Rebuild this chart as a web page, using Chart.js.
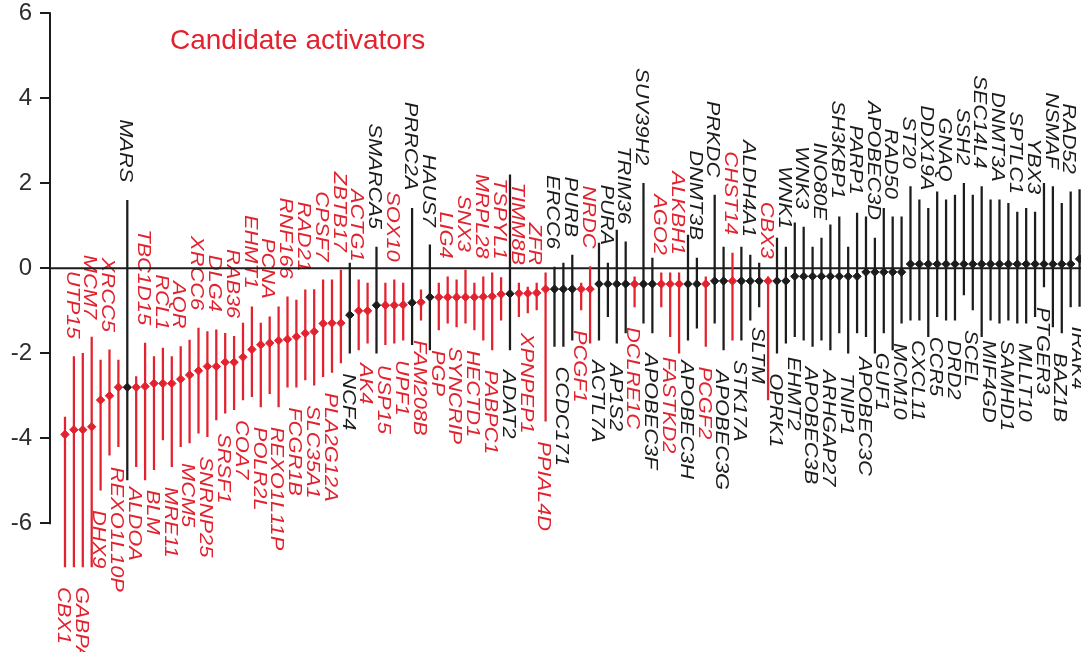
<!DOCTYPE html>
<html>
<head>
<meta charset="utf-8">
<script src="https://cdn.jsdelivr.net/npm/chart.js@4.4.1/dist/chart.umd.min.js"></script>
<style>
  html, body { margin: 0; padding: 0; background: #ffffff; overflow: hidden; }
  #wrap { width: 1081px; height: 652px; position: relative; }
</style>
</head>
<body>
<div id="wrap"><canvas id="screen" width="1081" height="652"></canvas></div>
<script>
// Genes ranked by score (ascending)
const genes = [
  'CBX1','UTP15','GABPA','MCM7','DHX9','XRCC5','REXO1L10P','MARS','ALDOA','TBC1D15',
  'BLM','RCL1','MRE11','AQR','MCM5','XRCC6','SNRNP25','DLG4','SRSF1','RAB36',
  'COA7','EHMT1','POLR2L','PCNA','REXO1L11P','RNF166','FCGR1B','RAD21','SLC35A1','CPSF7',
  'PLA2G12A','ZBTB17','NCF4','ACTG1','AK4','SMARCA5','USP15','SOX10','UPF1','PRRC2A',
  'FAM208B','HAUS7','PGP','LIG4','SYNCRIP','SNX3','HECTD1','MRPL28','PABPC1','TSPYL1',
  'ADAT2','TIMM8B','XPNPEP1','ZFR','PPIAL4D','ERCC6','CCDC171','PURB','PCGF1','NRDC',
  'ACTL7A','PURA','AP1S2','TRIM36','DCLRE1C','SUV39H2','APOBEC3F','AGO2','FASTKD2','ALKBH1',
  'APOBEC3H','DNMT3B','PCGF2','PRKDC','APOBEC3G','CHST14','STK17A','ALDH4A1','SLTM','CBX3',
  'OPRK1','WNK1','EHMT2','WNK3','APOBEC3B','INO80E','ARHGAP27','SH3KBP1','TNIP1','PARP1',
  'APOBEC3C','APOBEC3D','GUF1','RAD50','MCM10','ST20','CXCL11','DDX19A','CCR5','GNAQ',
  'DRD2','SSH2','SCEL','SEC14L4','MIF4GD','DNMT3A','SAMHD1','SPTLC1','MLLT10','YBX3',
  'PTGER3','NSMAF','BAZ1B','RAD52','IRAK4'
];

// Point estimate per gene
const scores = [
  -3.91,-3.80,-3.80,-3.73,-3.10,-3.00,-2.80,-2.80,-2.80,-2.78,
  -2.71,-2.71,-2.71,-2.61,-2.51,-2.41,-2.31,-2.31,-2.21,-2.21,
  -2.09,-1.91,-1.80,-1.76,-1.70,-1.67,-1.61,-1.53,-1.49,-1.30,
  -1.29,-1.29,-1.10,-1.00,-1.00,-0.87,-0.87,-0.87,-0.86,-0.81,
  -0.80,-0.68,-0.68,-0.68,-0.68,-0.68,-0.68,-0.67,-0.66,-0.61,
  -0.60,-0.59,-0.59,-0.58,-0.49,-0.49,-0.49,-0.49,-0.49,-0.49,
  -0.37,-0.37,-0.37,-0.37,-0.37,-0.37,-0.37,-0.37,-0.37,-0.37,
  -0.37,-0.37,-0.37,-0.30,-0.30,-0.30,-0.30,-0.30,-0.30,-0.30,
  -0.30,-0.30,-0.19,-0.19,-0.19,-0.19,-0.19,-0.19,-0.19,-0.19,
  -0.09,-0.09,-0.09,-0.09,-0.09,0.10,0.10,0.10,0.10,0.10,
  0.10,0.10,0.10,0.10,0.10,0.10,0.10,0.10,0.10,0.10,
  0.10,0.10,0.10,0.10,0.22
];

// Lower end of each interval
const ciLow = [
  -7.03,-7.03,-7.03,-7.03,-5.22,-4.40,-4.20,-4.98,-4.67,-4.98,
  -4.74,-4.04,-4.67,-4.20,-4.11,-3.88,-3.96,-3.57,-3.41,-3.33,
  -3.10,-3.02,-3.26,-2.95,-3.26,-2.80,-2.80,-2.63,-2.75,-2.55,
  -2.45,-2.23,-2.00,-1.92,-1.76,-2.00,-1.80,-1.76,-1.69,-1.80,
  -1.22,-1.92,-1.45,-1.29,-1.38,-1.29,-1.45,-1.69,-1.92,-1.22,
  -1.92,-1.14,-1.05,-0.98,-3.60,-1.84,-1.84,-1.69,-0.98,-1.76,
  -1.69,-1.14,-1.76,-1.52,-0.91,-1.29,-1.52,-0.91,-1.61,-2.00,
  -1.69,-1.41,-1.84,-1.29,-1.92,-1.69,-1.69,-1.22,-0.91,-3.10,
  -2.00,-1.76,-1.61,-1.69,-1.84,-1.69,-1.92,-1.52,-2.00,-1.52,
  -1.61,-2.00,-1.52,-1.92,-1.29,-1.22,-1.22,-1.61,-1.14,-1.22,
  -1.22,-0.63,-0.98,-1.61,-1.22,-1.29,-1.22,-1.29,-1.29,-1.14,
  -0.44,-1.38,-1.52,-0.91,-0.90
];

// Upper end of each interval
const ciHigh = [
  -3.50,-2.08,-2.00,-1.62,-2.16,-1.92,-2.16,1.60,-2.55,-1.76,
  -2.08,-1.88,-2.08,-1.84,-1.69,-1.41,-1.49,-1.45,-1.53,-1.60,
  -1.29,-0.91,-1.29,-1.14,-0.91,-0.67,-0.75,-0.51,-0.50,-0.27,
  -0.27,-0.04,0.12,-0.27,-0.35,0.50,-0.35,-0.27,-0.35,1.41,
  -0.51,0.55,-0.35,-0.20,-0.27,-0.04,-0.35,-0.20,-0.11,-0.22,
  2.20,-0.35,-0.44,-0.35,-0.11,0.03,0.12,0.31,-0.35,0.04,
  0.59,0.12,0.90,0.62,-0.20,2.00,0.24,-0.11,-0.11,-0.11,
  0.78,0.24,-0.20,1.72,0.50,0.36,0.50,0.31,0.12,-0.20,
  0.71,0.50,1.07,0.97,0.50,0.71,1.02,1.21,0.50,1.30,
  1.21,0.71,1.41,1.21,1.21,1.92,1.61,1.41,1.80,1.61,
  1.72,2.00,1.72,1.92,1.61,1.61,1.53,1.32,1.41,1.32,
  2.00,1.92,1.53,1.80,1.85
];

// 1 = candidate activator (red), 0 = other gene (black)
const activator = [
  1,1,1,1,1,1,1,0,1,1,
  1,1,1,1,1,1,1,1,1,1,
  1,1,1,1,1,1,1,1,1,1,
  1,1,0,1,1,0,1,1,1,0,
  1,0,1,1,1,1,1,1,1,1,
  0,1,1,1,1,0,0,0,1,1,
  0,0,0,0,1,0,0,1,1,1,
  0,0,1,0,0,1,0,0,0,1,
  0,0,0,0,0,0,0,0,0,0,
  0,0,0,0,0,0,0,0,0,0,
  0,0,0,0,0,0,0,0,0,0,
  0,0,0,0,0
];

const yTickValues = [-6, -4, -2, 0, 2, 4, 6];
const titleText = 'Candidate activators';

const RED = '#e2222e';
const BLACK = '#1c1c1c';
const colorOf = i => (activator[i] ? RED : BLACK);
const colors = genes.map((g, i) => colorOf(i));

// Gene names, zero line, axis line and the group caption
const annotate = {
  id: 'annotate',
  beforeDatasetsDraw(chart) {
    const { ctx, scales: { x, y }, chartArea } = chart;
    ctx.save();

    ctx.font = 'italic 19px "Liberation Sans", Arial, sans-serif';
    ctx.textBaseline = 'middle';
    genes.forEach((g, i) => {
      const below = i % 2 === 0;
      const px = x.getPixelForValue(i) - 2;
      const py = below ? y.getPixelForValue(ciLow[i]) + 20
                       : y.getPixelForValue(ciHigh[i]) - 18;
      ctx.save();
      ctx.translate(px, py);
      ctx.rotate(Math.PI / 2);
      ctx.scale(1.15, 1);
      ctx.textAlign = below ? 'left' : 'right';
      ctx.fillStyle = colorOf(i);
      ctx.fillText(g, 0, 0);
      ctx.restore();
    });

    // horizontal line at zero
    const y0 = y.getPixelForValue(0);
    ctx.strokeStyle = BLACK;
    ctx.lineWidth = 2;
    ctx.beginPath();
    ctx.moveTo(chartArea.left, y0);
    ctx.lineTo(chartArea.right, y0);
    ctx.stroke();

    // vertical axis spanning the tick range only
    ctx.beginPath();
    ctx.moveTo(chartArea.left, y.getPixelForValue(yTickValues[yTickValues.length - 1]) - 1);
    ctx.lineTo(chartArea.left, y.getPixelForValue(yTickValues[0]) + 1);
    ctx.stroke();

    // caption
    ctx.font = '28px "Liberation Sans", Arial, sans-serif';
    ctx.fillStyle = RED;
    ctx.textAlign = 'left';
    ctx.textBaseline = 'alphabetic';
    ctx.fillText(titleText, 170, 49);

    ctx.restore();
  }
};

new Chart(document.getElementById('screen').getContext('2d'), {
  type: 'bar',
  data: {
    datasets: [
      {
        type: 'bar',
        data: genes.map((g, i) => ({ x: i, y: [ciLow[i], ciHigh[i]] })),
        backgroundColor: colors,
        borderWidth: 0,
        barThickness: 1.6,
        order: 2
      },
      {
        type: 'scatter',
        data: genes.map((g, i) => ({ x: i, y: scores[i] })),
        pointStyle: 'rectRot',
        pointRadius: 4.2,
        pointBackgroundColor: colors,
        pointBorderColor: colors,
        pointBorderWidth: 1,
        order: 1
      }
    ]
  },
  options: {
    responsive: false,
    animation: false,
    events: [],
    layout: { autoPadding: false, padding: { top: 13.3, right: 0, bottom: 0, left: 0 } },
    plugins: {
      legend: { display: false },
      tooltip: { enabled: false },
      title: { display: false }
    },
    scales: {
      x: {
        type: 'linear',
        offset: false,
        min: -1.685,
        max: 114.16,
        display: false
      },
      y: {
        min: -9.03,
        max: 6,
        border: { display: false },
        grid: {
          drawOnChartArea: false,
          drawTicks: true,
          tickLength: 10,
          color: BLACK,
          lineWidth: 2
        },
        ticks: {
          color: '#2e2e2e',
          padding: 8,
          font: { family: '"Liberation Sans", Arial, sans-serif', size: 24, lineHeight: 1 },
          callback: v => String(v)
        },
        afterBuildTicks: s => { s.ticks = yTickValues.map(v => ({ value: v })); },
        afterFit: s => { s.width = 50; s.paddingTop = 0; s.paddingBottom = 0; }
      }
    }
  },
  plugins: [annotate]
});
</script>
</body>
</html>
